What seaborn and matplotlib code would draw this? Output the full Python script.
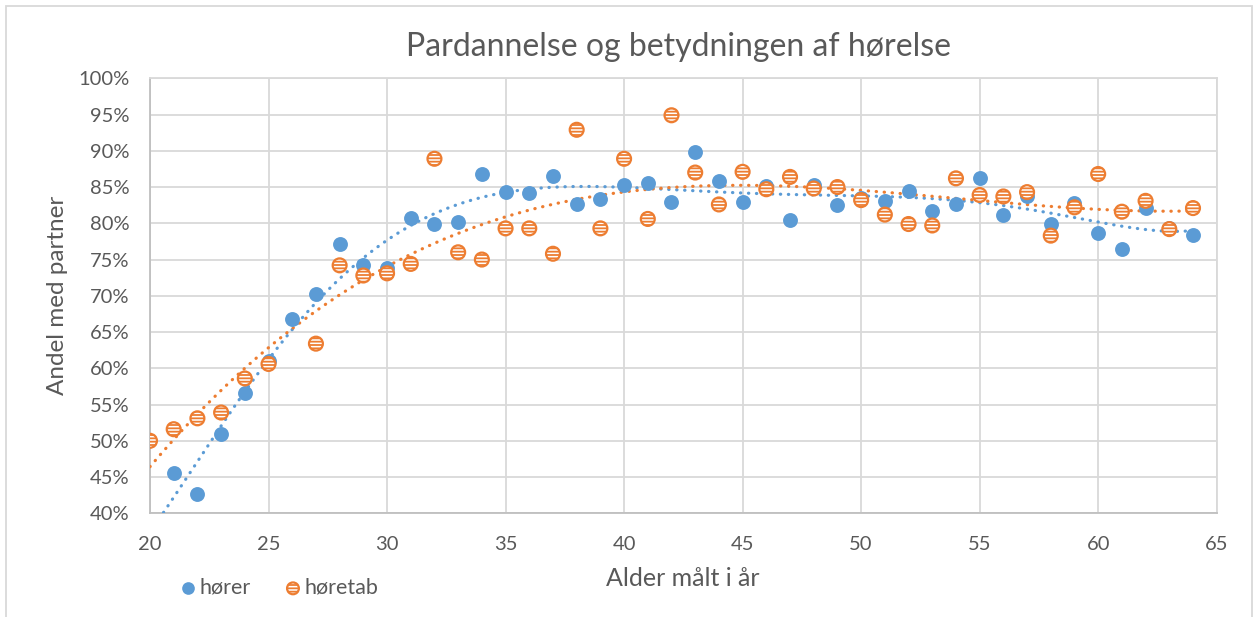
import numpy as np
import pandas as pd
import matplotlib
matplotlib.use("Agg")
import matplotlib.pyplot as plt
import seaborn as sns
from matplotlib.ticker import PercentFormatter, MultipleLocator
from matplotlib.patches import Rectangle

# data (andel med partner i %)
alder_horer = [21, 22, 23, 24, 25, 26, 27, 28, 29, 30, 31, 32, 33, 34, 35, 36, 37, 38, 39, 40, 41, 42,
               43, 44, 45, 46, 47, 48, 49, 50, 51, 52, 53, 54, 55, 56, 57, 58, 59, 60, 61, 62, 63, 64]
andel_horer = [45.6, 42.7, 51.0, 56.6, 61.0, 66.8, 70.2, 77.1, 74.3, 73.8, 80.7, 79.9, 80.2, 86.8, 84.3,
               84.2, 86.5, 82.7, 83.3, 85.3, 85.5, 82.9, 89.8, 85.8, 83.0, 85.1, 80.5, 85.3, 82.5, 83.5,
               83.1, 84.5, 81.7, 82.7, 86.2, 81.1, 83.8, 79.9, 82.8, 78.6, 76.4, 82.1, 79.3, 78.4]

alder_tab = [20, 21, 22, 23, 24, 25, 27, 28, 29, 30, 31, 32, 33, 34, 35, 36, 37, 38, 39, 40, 41, 42,
             43, 44, 45, 46, 47, 48, 49, 50, 51, 52, 53, 54, 55, 56, 57, 58, 59, 60, 61, 62, 63, 64]
andel_tab = [50.0, 51.6, 53.1, 53.9, 58.6, 60.6, 63.4, 74.2, 72.8, 73.1, 74.4, 88.9, 76.0, 75.0, 79.3,
             79.3, 75.8, 92.9, 79.3, 88.9, 80.6, 94.9, 87.0, 82.6, 87.1, 84.7, 86.4, 84.8, 85.0, 83.2,
             81.2, 79.9, 79.7, 86.2, 83.9, 83.7, 84.3, 78.3, 82.2, 86.8, 81.6, 83.1, 79.2, 82.1]

blaa = "#5B9BD5"
orange = "#ED7D31"
tekst = "#595959"
gitter = "#D9D9D9"

df_h = pd.DataFrame({"alder": alder_horer, "andel": andel_horer})
df_t = pd.DataFrame({"alder": alder_tab, "andel": andel_tab})

# polynomielle tendenslinjer
xs = np.linspace(20, 64, 300)
fit_h = np.polynomial.Polynomial.fit(alder_horer, andel_horer, 6)
fit_t = np.polynomial.Polynomial.fit(alder_tab, andel_tab, 3)
trend_h = pd.DataFrame({"alder": xs, "andel": fit_h(xs)})
trend_t = pd.DataFrame({"alder": xs, "andel": fit_t(xs)})

sns.set_style("white")
plt.rcParams["font.family"] = ["Lato", "DejaVu Sans"]
plt.rcParams["hatch.linewidth"] = 1.3

fig = plt.figure(figsize=(12.54, 6.17), dpi=100)
ax = fig.add_axes([150 / 1254, 1 - 513.3 / 617, (1216.7 - 150) / 1254, (513.3 - 78.3) / 617])

sns.lineplot(data=trend_h, x="alder", y="andel", ax=ax, color=blaa, lw=2.3,
             linestyle=(0, (0.1, 2.4)), dash_capstyle="round", zorder=3)
sns.lineplot(data=trend_t, x="alder", y="andel", ax=ax, color=orange, lw=2.3,
             linestyle=(0, (0.1, 2.4)), dash_capstyle="round", zorder=3)

sns.scatterplot(data=df_h, x="alder", y="andel", ax=ax, color=blaa, s=115, linewidth=0,
                label="hører", zorder=4)
sns.scatterplot(data=df_t, x="alder", y="andel", ax=ax, facecolor="white", edgecolor=orange,
                s=100, linewidth=1.6, hatch="-----", label="høretab", zorder=5)

ax.set_xlim(20, 65)
ax.set_ylim(40, 100)
ax.xaxis.set_major_locator(MultipleLocator(5))
ax.yaxis.set_major_locator(MultipleLocator(5))
ax.yaxis.set_major_formatter(PercentFormatter(decimals=0))
ax.grid(True, color=gitter, lw=1.3)
ax.set_axisbelow(True)
for side in ["top", "right"]:
    ax.spines[side].set_color(gitter)
    ax.spines[side].set_linewidth(1.3)
for side in ["left", "bottom"]:
    ax.spines[side].set_color("#BFBFBF")
    ax.spines[side].set_linewidth(1.3)
ax.tick_params(length=0, labelsize=14.5, labelcolor=tekst)
ax.tick_params(axis="x", pad=16)
ax.tick_params(axis="y", pad=15)

ax.set_xlabel("")
ax.set_ylabel("")
fig.text(683 / 1254, 1 - 578 / 617, "Alder målt i år", ha="center", va="center", fontsize=18, color=tekst)
fig.text(58 / 1254, 1 - 295 / 617, "Andel med partner", ha="center", va="center", rotation=90,
         fontsize=17.5, color=tekst)
fig.text(679 / 1254, 1 - 47 / 617, "Pardannelse og betydningen af hørelse", ha="center", va="center",
         fontsize=23, color=tekst)

ax.get_legend().remove()
handles, labels = ax.get_legend_handles_labels()
fig.legend(handles, labels, loc="center left", bbox_to_anchor=(147 / 1254, 1 - 588 / 617), ncol=2,
           frameon=False, fontsize=15.5, labelcolor=tekst, handletextpad=-0.45, columnspacing=0.95,
           markerscale=0.85)

fig.patches.append(Rectangle((6 / 1254, -0.1), 1246 / 1254, 1.1 - 6 / 617, transform=fig.transFigure,
                             fill=False, edgecolor=gitter, lw=1.3))

fig.savefig("out.png", dpi=100)
